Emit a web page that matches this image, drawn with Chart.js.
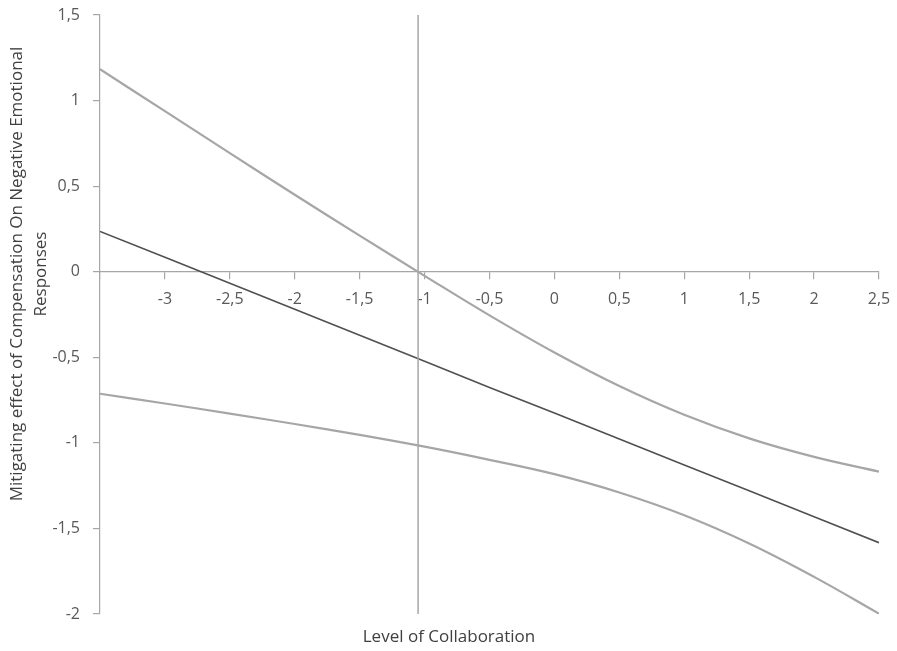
<!DOCTYPE html>
<html>
<head>
<meta charset="utf-8">
<script src="https://cdn.jsdelivr.net/npm/chart.js@4/dist/chart.umd.min.js"></script>
<style>
  html, body { margin: 0; padding: 0; background: #ffffff; }
  #wrap { width: 897px; height: 651px; position: relative; }
</style>
</head>
<body>
<div id="wrap"><canvas id="c" width="897" height="651"></canvas></div>
<script>
// ---- data ----
const collaboration = [-3.5, -3, -2.5, -2, -1.5, -1, -0.5, 0, 0.5, 1, 1.5, 2, 2.5];
const effectEstimate = [0.235, 0.084, -0.068, -0.22, -0.371, -0.523, -0.677, -0.826, -0.977, -1.129, -1.28, -1.432, -1.583];
const upperBound = [1.183, 0.938, 0.693, 0.45, 0.211, -0.024, -0.255, -0.472, -0.668, -0.836, -0.974, -1.082, -1.168];
const lowerBound = [-0.713, -0.77, -0.829, -0.89, -0.953, -1.022, -1.099, -1.183, -1.29, -1.423, -1.588, -1.783, -1.998];
const jnPoint = [-1.05];
const yLimits = [-2, 1.5];
const xLimits = [-3.5, 2.5];
const xTitle = 'Level of Collaboration';
const yTitleLines = ['Mitigating effect of Compensation On Negative Emotional', 'Responses'];

const toPoints = (xs, ys) => xs.map((x, i) => ({ x: x, y: ys[i] }));
const fmt = v => String(v).replace('.', ',');

const CI_COLOR = '#a6a6a6';
const EST_COLOR = '#505050';
const AXIS_COLOR = '#a6a6a6';
const TEXT_COLOR = '#595959';
const FONT = '"Open Sans", "DejaVu Sans", sans-serif';

const titlePlugin = {
  id: 'titles',
  afterDraw(chart) {
    const ctx = chart.ctx;
    ctx.save();
    ctx.fillStyle = '#404040';
    ctx.font = '17px ' + FONT;
    ctx.textAlign = 'center';
    ctx.textBaseline = 'middle';
    ctx.fillText(xTitle, 449, 637);
    const xs = [17.5, 41];
    yTitleLines.forEach((t, i) => {
      ctx.save();
      ctx.translate(xs[i], 274);
      ctx.rotate(-Math.PI / 2);
      ctx.fillText(t, 0, 0);
      ctx.restore();
    });
    ctx.restore();
  }
};

const zeroPad = s => { s.paddingTop = 0; s.paddingBottom = 0; s.paddingLeft = 0; s.paddingRight = 0; };

new Chart(document.getElementById('c'), {
  type: 'scatter',
  data: {
    datasets: [
      {
        label: 'Johnson-Neyman point',
        data: [{ x: jnPoint[0], y: yLimits[0] }, { x: jnPoint[0], y: yLimits[1] }],
        showLine: true, borderColor: AXIS_COLOR, borderWidth: 1.5, pointRadius: 0
      },
      {
        label: 'Upper bound',
        data: toPoints(collaboration, upperBound),
        showLine: true, borderColor: CI_COLOR, borderWidth: 2.2, pointRadius: 0,
        tension: 0.4
      },
      {
        label: 'Lower bound',
        data: toPoints(collaboration, lowerBound),
        showLine: true, borderColor: CI_COLOR, borderWidth: 2.2, pointRadius: 0,
        tension: 0.4
      },
      {
        label: 'Effect',
        data: toPoints(collaboration, effectEstimate),
        showLine: true, borderColor: EST_COLOR, borderWidth: 1.6, pointRadius: 0
      }
    ]
  },
  options: {
    responsive: false,
    animation: false,
    layout: { padding: { left: 0, right: 18, top: 15, bottom: 37 } },
    plugins: { legend: { display: false }, tooltip: { enabled: false } },
    scales: {
      x: {
        type: 'linear',
        min: xLimits[0], max: xLimits[1],
        position: { y: 0 },
        afterFit: zeroPad,
        grid: { display: true, drawOnChartArea: false, drawTicks: true, tickLength: 7, color: AXIS_COLOR, lineWidth: 1.2 },
        border: { display: true, color: AXIS_COLOR, width: 1.2 },
        ticks: {
          stepSize: 0.5, padding: 11, color: TEXT_COLOR, maxRotation: 0, autoSkip: false,
          font: { family: FONT, size: 16 },
          callback: v => (v === xLimits[0] ? '' : fmt(v))
        }
      },
      y: {
        type: 'linear',
        min: yLimits[0], max: yLimits[1],
        position: 'left',
        afterFit: s => { s.width = 100; zeroPad(s); },
        grid: { display: true, drawOnChartArea: false, drawTicks: true, tickLength: 7, color: AXIS_COLOR, lineWidth: 1.2 },
        border: { display: true, color: AXIS_COLOR, width: 1.2 },
        ticks: {
          stepSize: 0.5, padding: 13, color: TEXT_COLOR,
          font: { family: FONT, size: 16 },
          callback: v => fmt(v)
        }
      }
    }
  },
  plugins: [titlePlugin]
});
</script>
</body>
</html>
